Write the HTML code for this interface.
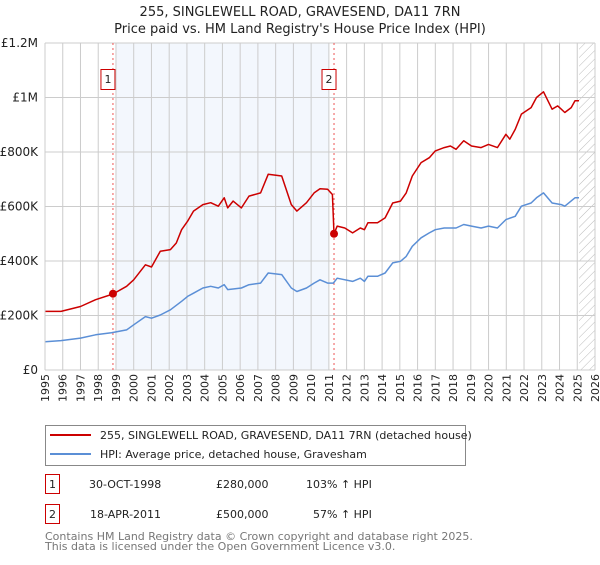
<!DOCTYPE html>
<html><head><meta charset="utf-8"><style>
body{margin:0;background:#fff;font-family:"Liberation Sans","DejaVu Sans",sans-serif;}
svg text{font-family:"DejaVu Sans","Liberation Sans",sans-serif;}
</style></head><body>
<svg id="chart" width="600" height="560" viewBox="0 0 600 560" xmlns="http://www.w3.org/2000/svg">
<defs><pattern id="hatch" width="6" height="6" patternUnits="userSpaceOnUse" patternTransform="rotate(45)"><line x1="0" y1="0" x2="0" y2="6" stroke="#bbb" stroke-width="1"/></pattern></defs>
<text x="300" y="16" text-anchor="middle" font-size="13" fill="#222">255, SINGLEWELL ROAD, GRAVESEND, DA11 7RN</text>
<text x="300" y="33" text-anchor="middle" font-size="13" fill="#222">Price paid vs. HM Land Registry's House Price Index (HPI)</text>
<g id="plot"></g>
<g>
<rect x="45.5" y="425.5" width="420" height="40" fill="#fff" stroke="#888"/>
<line x1="50" y1="435" x2="91" y2="435" stroke="#cc0000" stroke-width="2"/>
<text x="100" y="439" font-size="11" fill="#222">255, SINGLEWELL ROAD, GRAVESEND, DA11 7RN (detached house)</text>
<line x1="50" y1="454" x2="91" y2="454" stroke="#5b8fd6" stroke-width="2"/>
<text x="100" y="458" font-size="11" fill="#222">HPI: Average price, detached house, Gravesham</text>
</g>
<g font-size="11" fill="#222">
<rect x="45.5" y="474.5" width="14" height="19" fill="#fff" stroke="#cc0000"/>
<text x="52.5" y="488" text-anchor="middle">1</text>
<text x="89" y="488">30-OCT-1998</text>
<text x="216" y="488">£280,000</text>
<text x="306" y="488">103% ↑ HPI</text>
<rect x="45.5" y="504.5" width="14" height="19" fill="#fff" stroke="#cc0000"/>
<text x="52.5" y="518" text-anchor="middle">2</text>
<text x="90" y="518">18-APR-2011</text>
<text x="216" y="518">£500,000</text>
<text x="313" y="518">57% ↑ HPI</text>
</g>
<text x="45" y="540" font-size="11" fill="#777">Contains HM Land Registry data © Crown copyright and database right 2025.</text>
<text x="45" y="550" font-size="11" fill="#777">This data is licensed under the Open Government Licence v3.0.</text>
</svg>
<script>
const yTicks=[0,200,400,600,800,1000,1200];
const yTickLabels=["£0","£200K","£400K","£600K","£800K","£1M","£1.2M"];
const years=[1995,1996,1997,1998,1999,2000,2001,2002,2003,2004,2005,2006,2007,2008,2009,2010,2011,2012,2013,2014,2015,2016,2017,2018,2019,2020,2021,2022,2023,2024,2025,2026];
const redX=[1995,1995.9,1997,1997.85,1998.83,1999.6,2000,2000.66,2001,2001.5,2002.07,2002.4,2002.7,2003.04,2003.37,2003.9,2004.34,2004.77,2005.1,2005.3,2005.6,2006.07,2006.5,2007.15,2007.58,2008.34,2008.88,2009.2,2009.74,2010.17,2010.5,2010.93,2011.2,2011.29,2011.47,2011.9,2012.34,2012.77,2013,2013.2,2013.74,2014.17,2014.6,2015.04,2015.36,2015.7,2016.2,2016.66,2017,2017.5,2017.85,2018.17,2018.6,2019.04,2019.58,2020,2020.5,2020.98,2021.2,2021.5,2021.85,2022.4,2022.7,2023.1,2023.58,2023.9,2024.1,2024.3,2024.66,2024.87,2025.1];
const redY=[215,215,233,258,279,307,331,386,378,436,442,466,515,546,583,607,614,601,632,595,620,595,638,650,718,712,607,583,614,650,665,663,644,500,528,521,503,521,515,540,540,558,613,620,650,712,761,779,804,816,822,810,841,822,816,828,816,865,847,883,939,963,1000,1021,957,969,957,945,963,988,988];
const blueX=[1995,1995.9,1997,1997.85,1998.74,1999.6,2000,2000.66,2001,2001.5,2002.07,2002.7,2003.04,2003.37,2003.9,2004.34,2004.77,2005.1,2005.3,2006.07,2006.5,2007.15,2007.58,2008.34,2008.88,2009.2,2009.74,2010.17,2010.5,2010.93,2011.25,2011.47,2012.34,2012.77,2013,2013.2,2013.74,2014.17,2014.6,2015.04,2015.36,2015.7,2016.2,2016.66,2017,2017.5,2018.17,2018.6,2019.04,2019.58,2020,2020.5,2020.98,2021.5,2021.85,2022.4,2022.7,2023.1,2023.58,2024.1,2024.3,2024.87,2025.1];
const blueY=[104,108,117,129,137,147,166,196,190,202,221,252,270,282,301,307,301,313,295,301,313,319,356,350,301,288,301,319,331,319,319,337,325,337,325,344,344,356,393,399,417,454,485,503,515,521,521,534,528,521,528,521,552,564,601,613,632,650,613,607,601,632,632];
const sales=[[1998.83,280],[2011.29,500]];
const saleLabels=["1","2"];
const NS="http://www.w3.org/2000/svg";
const X0=45,X1=595,Y0=370,Y1=43;
function xs(y){return X0+(y-1995)*(X1-X0)/31;}
function ys(v){return Y0-v*(Y0-Y1)/1200;}
const g=document.getElementById('plot');
function mk(t,a){const e=document.createElementNS(NS,t);for(const k in a)e.setAttribute(k,a[k]);g.appendChild(e);return e;}
let e;
e=mk('rect',{x:xs(1999),y:Y1,width:xs(2011)-xs(1999),height:Y0-Y1,fill:'#eef3fc',opacity:0.7});


e=mk('rect',{x:xs(2025.1),y:Y1,width:X1-xs(2025.1),height:Y0-Y1,fill:'url(#hatch)'});


years.forEach(yr=>{
 e=mk('line',{x1:xs(yr),x2:xs(yr),y1:Y1,y2:Y0,stroke:'#cccccc','stroke-width':1});
 
 
 const x=xs(yr)+4,y=374;
 e=mk('text',{x:x,y:y,'text-anchor':'end','font-size':11,fill:'#222',transform:`rotate(-90 ${x} ${y})`});
 e.textContent=yr;
 
 
});
yTicks.forEach((v,i)=>{
 e=mk('line',{x1:X0,x2:X1,y1:ys(v),y2:ys(v),stroke:'#cccccc','stroke-width':1});
 
 
 e=mk('text',{x:38,y:ys(v)+4,'text-anchor':'end','font-size':12,fill:'#222'});
 e.textContent=yTickLabels[i];
 
 
});
sales.forEach((s,i)=>{
 e=mk('line',{x1:xs(s[0]),x2:xs(s[0]),y1:Y1,y2:Y0,stroke:'#ee5555','stroke-width':1,'stroke-dasharray':'2,3'});
 
 
});
function path(xa,ya,col,name){
 let d='';xa.forEach((x,i)=>{d+=(i?'L':'M')+xs(x).toFixed(1)+','+ys(ya[i]).toFixed(1);});
 e=mk('path',{d:d,fill:'none',stroke:col,'stroke-width':1.5,'stroke-linejoin':'round'});
 
 
}
path(blueX,blueY,'#5b8fd6','hpi-line');
path(redX,redY,'#cc0000','price-paid-line');
sales.forEach((s,i)=>{
 e=mk('circle',{cx:xs(s[0]),cy:ys(s[1]),r:4,fill:'#cc0000'});
 
 
 const bx=xs(s[0])-12;
 e=mk('rect',{x:bx,y:69.5,width:14,height:20,fill:'#fff',stroke:'#cc0000'});
 
 
 e=mk('text',{x:bx+7,y:83,'text-anchor':'middle','font-size':11,fill:'#222'});
 e.textContent=saleLabels[i];
 
 
});
e=mk('line',{x1:X0,x2:X0,y1:Y1,y2:Y0,stroke:'#ccc'});
</script>
</body></html>
